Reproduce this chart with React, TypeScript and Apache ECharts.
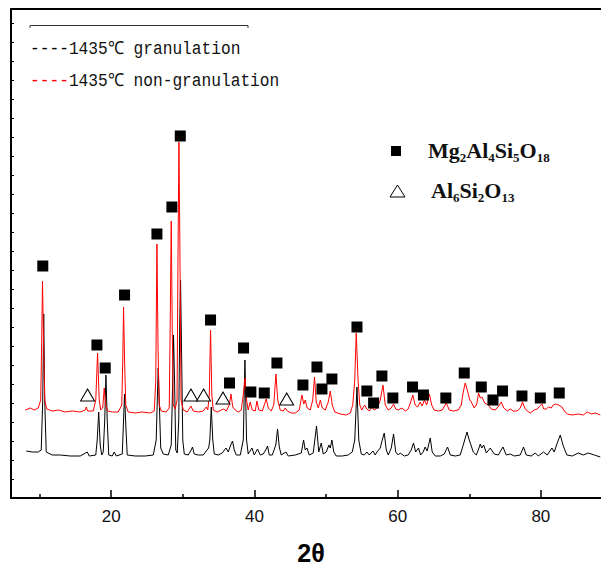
import React, { useEffect, useRef } from "react";
import * as echarts from "echarts";

// 2θ tick labels
const xMajorTicks = [20, 40, 60, 80];
const xMinorTicks = [10, 30, 50, 70, 90];

// 1435℃ granulation (black), [2θ, intensity a.u.]
const granulation: [number, number][] = [
  [8.13, 47], [8.97, 46], [9.8, 46], [10.22, 48], [10.43, 98], [10.57, 184], [10.71, 98], [10.92, 46],
  [11.76, 43], [12.88, 43], [14.27, 42], [15.67, 42], [16.65, 46], [16.93, 42], [17.84, 43], [18.04, 58],
  [18.25, 86], [18.46, 53], [18.67, 43], [18.88, 46], [19.09, 78], [19.26, 123], [19.44, 78], [19.65, 43],
  [20.14, 42], [20.42, 46], [20.7, 42], [21.54, 44], [21.72, 78], [21.86, 104], [22.0, 78], [22.23, 43],
  [23.35, 42], [24.75, 42], [25.87, 43], [26.28, 58], [26.45, 103], [26.56, 130], [26.7, 98], [26.91, 50],
  [27.26, 44], [27.96, 43], [28.38, 53], [28.59, 118], [28.7, 163], [28.84, 118], [29.01, 48], [29.22, 45],
  [29.43, 78], [29.57, 178], [29.68, 218], [29.82, 148], [29.99, 58], [30.2, 44], [30.75, 43], [31.17, 48],
  [31.35, 51], [31.59, 44], [32.15, 43], [32.85, 43], [33.27, 47], [33.6, 50], [33.77, 58], [33.97, 91],
  [34.18, 58], [34.39, 44], [34.94, 43], [35.5, 45], [36.02, 50], [36.34, 46], [36.69, 53], [36.94, 57],
  [37.18, 48], [37.46, 43], [38.02, 43], [38.44, 58], [38.67, 138], [38.9, 58], [39.13, 44], [39.65, 50],
  [39.97, 43], [40.43, 49], [40.81, 43], [41.23, 44], [41.58, 48], [41.83, 52], [42.07, 43], [42.49, 43],
  [42.98, 53], [43.23, 69], [43.47, 51], [43.74, 43], [44.4, 46], [44.72, 42], [45.7, 43], [46.54, 45],
  [46.86, 58], [47.09, 48], [47.33, 50], [47.65, 43], [48.21, 45], [48.67, 72], [48.98, 46], [49.33, 55],
  [49.61, 44], [50.03, 46], [50.4, 53], [50.59, 50], [50.82, 58], [51.08, 46], [51.43, 42], [52.26, 42],
  [53.1, 43], [53.66, 46], [54.01, 58], [54.32, 111], [54.57, 58], [54.92, 44], [55.34, 43], [55.71, 46],
  [56.03, 43], [56.55, 47], [56.87, 43], [57.11, 46], [57.57, 50], [57.85, 58], [58.13, 65], [58.41, 48],
  [58.69, 43], [59.11, 50], [59.43, 64], [59.73, 46], [60.08, 43], [60.36, 45], [60.92, 42], [61.47, 43],
  [61.89, 48], [62.22, 55], [62.51, 46], [62.91, 50], [63.21, 43], [63.56, 46], [63.84, 51], [64.12, 47],
  [64.55, 60], [64.83, 46], [65.25, 42], [65.95, 42], [66.51, 44], [66.97, 51], [67.35, 43], [68.04, 42],
  [68.74, 43], [69.16, 53], [69.68, 66], [70.0, 58], [70.14, 55], [70.56, 46], [70.98, 43], [71.26, 48],
  [71.54, 54], [71.75, 50], [72.01, 53], [72.39, 45], [72.93, 50], [73.49, 44], [74.05, 43], [74.71, 51],
  [75.17, 43], [75.73, 44], [76.28, 42], [77.12, 43], [77.58, 51], [77.96, 43], [78.66, 42], [79.22, 45],
  [79.64, 42], [80.38, 46], [80.89, 43], [81.55, 50], [81.87, 46], [82.29, 55], [82.71, 63], [83.13, 52],
  [83.64, 43], [84.39, 42], [85.22, 45], [85.92, 43], [86.62, 45], [87.46, 43], [88.3, 41],
];

// 1435℃ non-granulation (red), [2θ, intensity a.u.]
const nonGranulation: [number, number][] = [
  [7.99, 88], [8.69, 90], [9.25, 88], [9.8, 90], [10.15, 98], [10.29, 158], [10.4, 217], [10.54, 158],
  [10.71, 98], [10.99, 89], [11.76, 87], [12.6, 88], [13.58, 86], [14.55, 87], [15.67, 86], [16.37, 88],
  [16.51, 91], [16.72, 87], [17.49, 87], [17.84, 98], [18.09, 145], [18.32, 98], [18.53, 88], [18.81, 90],
  [19.02, 110], [19.23, 93], [19.51, 87], [20.14, 86], [20.98, 86], [21.47, 93], [21.61, 138], [21.72, 191],
  [21.86, 138], [22.03, 93], [22.37, 86], [23.35, 85], [24.33, 86], [25.45, 85], [26.01, 87], [26.22, 118],
  [26.38, 254], [26.54, 148], [26.7, 93], [26.98, 87], [27.68, 86], [28.1, 90], [28.24, 178], [28.38, 277],
  [28.52, 168], [28.66, 93], [28.94, 89], [29.19, 98], [29.33, 248], [29.45, 356], [29.59, 248], [29.75, 98],
  [30.06, 88], [30.61, 86], [31.13, 92], [31.45, 87], [32.15, 86], [32.85, 87], [33.27, 91], [33.48, 88],
  [33.69, 103], [33.87, 168], [34.05, 103], [34.25, 88], [34.8, 86], [35.36, 88], [35.71, 89], [36.06, 87],
  [36.48, 93], [36.72, 104], [36.97, 91], [37.32, 88], [37.74, 86], [38.16, 88], [38.44, 103], [38.67, 120],
  [38.9, 98], [39.13, 88], [39.41, 96], [39.69, 88], [40.11, 87], [40.35, 97], [40.6, 88], [41.09, 87],
  [41.37, 93], [41.65, 99], [41.93, 90], [42.35, 87], [42.7, 93], [43.0, 124], [43.25, 98], [43.6, 88],
  [44.02, 87], [44.3, 90], [44.58, 87], [45.14, 85], [45.7, 85], [46.26, 88], [46.63, 103], [46.89, 94],
  [47.09, 98], [47.37, 90], [47.79, 88], [48.14, 98], [48.39, 121], [48.63, 96], [48.92, 90], [49.2, 98],
  [49.47, 90], [49.89, 88], [50.31, 96], [50.59, 107], [50.87, 93], [51.22, 86], [51.98, 84], [52.82, 83],
  [53.38, 85], [53.73, 93], [54.01, 118], [54.22, 165], [54.47, 118], [54.71, 93], [54.99, 88], [55.39, 93],
  [55.7, 89], [56.05, 87], [56.41, 91], [56.73, 88], [57.15, 90], [57.57, 98], [57.95, 113], [58.27, 93],
  [58.69, 88], [59.11, 90], [59.43, 94], [59.73, 89], [60.08, 88], [60.6, 90], [61.06, 87], [61.47, 89],
  [61.82, 96], [62.12, 103], [62.44, 93], [62.79, 91], [63.14, 96], [63.42, 92], [63.74, 98], [64.05, 93],
  [64.44, 104], [64.75, 93], [65.1, 88], [65.67, 87], [66.23, 88], [66.79, 95], [67.21, 88], [67.77, 87],
  [68.46, 88], [68.88, 93], [69.16, 106], [69.44, 115], [69.72, 108], [70.07, 98], [70.28, 96], [70.7, 90],
  [71.05, 94], [71.3, 105], [71.54, 100], [71.77, 101], [72.16, 95], [72.7, 93], [73.07, 89], [73.63, 88],
  [74.12, 92], [74.47, 96], [74.82, 90], [75.31, 87], [75.73, 89], [76.15, 87], [76.7, 87], [77.12, 90],
  [77.44, 96], [77.75, 90], [78.1, 87], [78.52, 85], [79.08, 88], [79.5, 89], [79.85, 92], [80.15, 94],
  [80.41, 89], [80.75, 89], [81.08, 91], [81.45, 90], [81.73, 93], [82.01, 94], [82.47, 93], [82.95, 91],
  [83.27, 87], [83.69, 84], [84.39, 83], [85.22, 84], [85.92, 83], [86.48, 86], [87.04, 84], [87.6, 85],
  [88.3, 83],
];

// Mg2Al4Si5O18 phase markers (filled squares)
const cordieriteMarks: [number, number][] = [
  [10.44, 232], [18.0, 153], [19.16, 130], [21.86, 203], [26.38, 264], [28.47, 291], [29.64, 362],
  [33.87, 178], [36.52, 115], [38.48, 150], [39.5, 106], [41.37, 105], [43.14, 135], [46.77, 113],
  [48.73, 131], [49.43, 109], [50.82, 119], [54.32, 171], [55.7, 107], [56.64, 95], [57.8, 122],
  [59.33, 100], [62.08, 111], [63.6, 103], [66.73, 100], [69.3, 125], [71.68, 111], [73.31, 98],
  [74.65, 107], [77.36, 102], [79.92, 100], [82.57, 105],
];

// Al6Si2O13 phase markers (open triangles)
const mulliteMarks: [number, number][] = [
  [16.69, 103], [31.13, 103], [32.9, 103], [35.6, 100], [44.5, 99],
];

const seriesNames = ["1435℃ granulation", "1435℃ non-granulation"];

const serifMono = "'Liberation Mono', 'DejaVu Sans Mono', monospace";
const timesBold = "'Liberation Serif', 'DejaVu Serif', serif";

export default function App() {
  const ref = useRef<HTMLDivElement>(null);
  useEffect(() => {
    if (!ref.current) return;
    const chart = echarts.init(ref.current, null, { renderer: "svg" });
    const xBase = { type: "value", min: 6, max: 88.4, splitLine: { show: false } };
    const formulaRich = {
      b: { fontFamily: timesBold, fontWeight: "bold", fontSize: 22, lineHeight: 28, fill: "#111" },
      s: { fontFamily: timesBold, fontWeight: "bold", fontSize: 13, lineHeight: 13, verticalAlign: "bottom", fill: "#111" },
    };
    const legendText = (y: number, name: string, color: string) => ({
      type: "text",
      x: 30,
      y,
      scaleX: 0.9,
      style: {
        text: "{k|----}{t|" + name + "}",
        verticalAlign: "middle",
        rich: {
          k: { fontFamily: serifMono, fontSize: 18, fill: color },
          t: { fontFamily: serifMono, fontSize: 18, fill: "#111" },
        },
      },
      silent: true,
    });
    const option: any = {
      animation: false,
      grid: { left: 11, right: 0, top: 9, bottom: 71, containLabel: false },
      xAxis: [
        {
          ...xBase,
          position: "bottom",
          axisLine: { show: true, onZero: false, lineStyle: { color: "#000", width: 2 } },
          axisTick: { show: true, inside: true, length: 8, customValues: xMajorTicks, lineStyle: { color: "#000", width: 1.5 } },
          axisLabel: { show: true, customValues: xMajorTicks, fontSize: 17, fontFamily: "'Liberation Sans', Arial, sans-serif", color: "#111", margin: 10 },
        },
        {
          ...xBase,
          position: "bottom",
          axisLine: { show: false, onZero: false },
          axisTick: { show: true, inside: true, length: 4, customValues: xMinorTicks, lineStyle: { color: "#000", width: 1.5 } },
          axisLabel: { show: false },
        },
        {
          ...xBase,
          position: "top",
          axisLine: { show: true, onZero: false, lineStyle: { color: "#000", width: 2 } },
          axisTick: { show: false },
          axisLabel: { show: false },
        },
      ],
      yAxis: {
        type: "value",
        min: 0,
        max: 489,
        interval: 19,
        splitLine: { show: false },
        axisLine: { show: true, onZero: false, lineStyle: { color: "#000", width: 2 } },
        axisTick: { show: true, inside: true, length: 3, lineStyle: { color: "#000", width: 1 } },
        axisLabel: { show: false },
      },
      series: [
        {
          name: seriesNames[0],
          type: "line",
          data: granulation,
          showSymbol: false,
          symbol: "none",
          lineStyle: { color: "#000", width: 1 },
          z: 2,
          silent: true,
        },
        {
          name: seriesNames[1],
          type: "line",
          data: nonGranulation,
          showSymbol: false,
          symbol: "none",
          lineStyle: { color: "#ff0000", width: 1 },
          z: 3,
          silent: true,
        },
        {
          type: "scatter",
          data: cordieriteMarks,
          symbol: "rect",
          symbolSize: 11,
          itemStyle: { color: "#000", opacity: 1 },
          z: 5,
          silent: true,
        },
        {
          type: "scatter",
          data: mulliteMarks,
          symbol: "triangle",
          symbolSize: [14, 12],
          itemStyle: { color: "#fff", borderColor: "#000", borderWidth: 1, opacity: 1 },
          z: 5,
          silent: true,
        },
      ],
      graphic: [
        {
          type: "polyline",
          shape: { points: [[30, 28], [30, 25.5], [248, 25.5], [248, 28]] },
          style: { stroke: "#333", lineWidth: 1, fill: null },
          silent: true,
        },
        legendText(49, seriesNames[0], "#000"),
        legendText(81, seriesNames[1], "#ff0000"),
        {
          type: "rect",
          shape: { x: 391, y: 146, width: 10, height: 10 },
          style: { fill: "#000" },
          silent: true,
        },
        {
          type: "polygon",
          shape: { points: [[397.5, 185], [390, 197], [405, 197]] },
          style: { fill: "#fff", stroke: "#000", lineWidth: 1 },
          silent: true,
        },
        {
          type: "text",
          x: 428,
          y: 150,
          style: {
            text: "{b|Mg}{s|2}{b|Al}{s|4}{b|Si}{s|5}{b|O}{s|18}",
            verticalAlign: "middle",
            rich: formulaRich,
          },
          silent: true,
        },
        {
          type: "text",
          x: 431,
          y: 190,
          style: {
            text: "{b|Al}{s|6}{b|Si}{s|2}{b|O}{s|13}",
            verticalAlign: "middle",
            rich: formulaRich,
          },
          silent: true,
        },
        {
          type: "text",
          x: 311,
          y: 553,
          style: {
            text: "2θ",
            align: "center",
            verticalAlign: "middle",
            fontFamily: "'Liberation Sans', Arial, sans-serif",
            fontWeight: "bold",
            fontSize: 25,
            fill: "#000",
          },
          silent: true,
        },
      ],
    };
    chart.setOption(option);
    return () => chart.dispose();
  }, []);
  return (
    <div
      ref={ref}
      style={{ position: "fixed", left: 0, top: 0, width: 601, height: 569, background: "#fff" }}
    />
  );
}
